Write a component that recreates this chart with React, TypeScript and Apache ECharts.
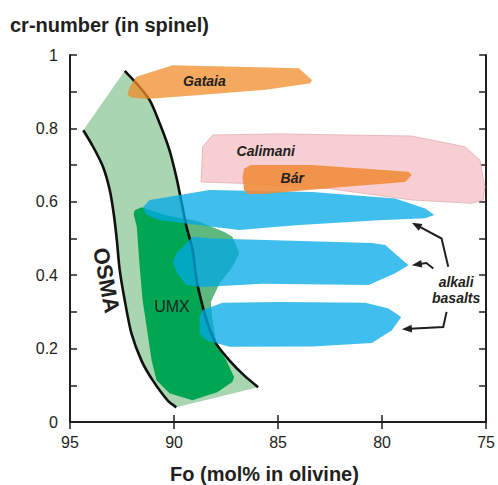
import React, { useEffect, useRef } from 'react';
import * as echarts from 'echarts';

const FONT = 'Liberation Sans, Arial, Helvetica, sans-serif';
const INK = '#231f20';

// axis ticks
const xTicks = [95, 90, 85, 80, 75];
const yTickLabels = ['0', '0.2', '0.4', '0.6', '0.8', '1'];

// OSMA band boundaries [Fo, cr]
const osmaLeft = [
  [94.36, 0.795], [93.89, 0.75], [93.41, 0.695], [93.09, 0.632], [92.89, 0.564],
  [92.75, 0.496], [92.61, 0.414], [92.37, 0.332], [92.05, 0.242], [91.57, 0.168],
  [91.03, 0.114], [90.31, 0.059], [89.89, 0.04],
];
const osmaRight = [
  [92.37, 0.957], [91.81, 0.923], [91.17, 0.877], [90.69, 0.814], [90.22, 0.741],
  [89.89, 0.668], [89.66, 0.605], [89.4, 0.532], [89.1, 0.468], [88.94, 0.395],
  [88.7, 0.332], [88.38, 0.268], [87.98, 0.214], [87.34, 0.168], [86.63, 0.127],
  [85.96, 0.095],
];

// UMX field
const umx = [
  [91.89, 0.577], [91.56, 0.585], [90.45, 0.564], [88.78, 0.545], [87.58, 0.517],
  [87.2, 0.504], [86.87, 0.46], [87.25, 0.419], [87.82, 0.378], [88.25, 0.326],
  [88.16, 0.277], [88.01, 0.228], [87.97, 0.214], [87.49, 0.168], [87.11, 0.122],
  [87.2, 0.109], [87.92, 0.081], [88.64, 0.068], [89.11, 0.059], [90.22, 0.078],
  [90.84, 0.114], [91.08, 0.168], [91.27, 0.241], [91.51, 0.332], [91.65, 0.422],
  [91.79, 0.531], [91.94, 0.566],
];
// part of UMX lying outside the OSMA band
const umxOutside = [
  [89.5, 0.555], [89.4, 0.532], [89.1, 0.468], [88.94, 0.395], [88.7, 0.332],
  [88.38, 0.268], [88.01, 0.223], [88.16, 0.277], [88.25, 0.326], [87.82, 0.378],
  [87.25, 0.419], [86.87, 0.46], [87.2, 0.504], [87.58, 0.517], [88.78, 0.545],
];

const gataia = [
  [92.24, 0.891], [92.13, 0.913], [91.81, 0.941], [90.07, 0.972], [84.0, 0.964],
  [83.37, 0.932], [83.44, 0.923], [85.59, 0.905], [88.78, 0.891], [91.33, 0.88],
  [92.05, 0.884],
];
const calimani = [
  [88.7, 0.654], [88.62, 0.75], [88.14, 0.782], [84.95, 0.785], [78.57, 0.779],
  [76.02, 0.75], [75.3, 0.714], [75.06, 0.641], [75.14, 0.605], [75.7, 0.596],
  [78.57, 0.605], [82.56, 0.636], [86.55, 0.65],
];
const bar = [
  [86.71, 0.668], [86.63, 0.691], [86.31, 0.7], [83.36, 0.7], [78.73, 0.682],
  [78.57, 0.673], [78.89, 0.654], [81.76, 0.641], [85.75, 0.621], [86.47, 0.621],
  [86.63, 0.632],
];
const alkaliHigh = [
  [91.49, 0.586], [91.17, 0.605], [90.22, 0.614], [88.3, 0.632], [83.36, 0.627],
  [79.37, 0.609], [77.93, 0.582], [77.49, 0.564], [77.93, 0.555], [80.17, 0.55],
  [84.15, 0.536], [86.87, 0.523], [90.69, 0.55], [91.33, 0.564],
];
const alkaliMid = [
  [90.06, 0.436], [89.89, 0.459], [89.1, 0.505], [88.14, 0.5], [80.49, 0.488],
  [79.85, 0.482], [78.73, 0.427], [79.37, 0.405], [80.65, 0.373], [85.75, 0.377],
  [88.62, 0.368], [89.42, 0.373], [89.89, 0.409],
];
const alkaliLow = [
  [88.78, 0.286], [88.62, 0.305], [87.67, 0.325], [84.95, 0.327], [80.8, 0.325],
  [79.69, 0.309], [79.08, 0.286], [79.53, 0.25], [80.49, 0.215], [83.36, 0.206],
  [87.34, 0.205], [88.46, 0.223], [88.78, 0.241],
];

// arrows (tail ... head)
const arrowHigh = [[76.82, 0.423], [77.14, 0.5], [78.57, 0.543]];
const arrowMid = [[77.54, 0.418], [77.87, 0.433], [78.57, 0.427]];
const arrowLow = [[76.9, 0.3], [77.06, 0.259], [79.05, 0.253]];

// labels
const labelTexts = ['Gataia', 'Calimani', 'Bár', 'UMX', 'OSMA', 'alkali\nbasalts'];
const labelFo = [88.54, 85.59, 84.32, 90.1, 93.25, 76.44];
const labelCr = [0.929, 0.739, 0.664, 0.314, 0.386, 0.359];

const labelStyles = [
  { font: `italic bold 14px ${FONT}`, rot: 0 },
  { font: `italic bold 14px ${FONT}`, rot: 0 },
  { font: `italic bold 14px ${FONT}`, rot: 0 },
  { font: `normal 16px ${FONT}`, rot: 0 },
  { font: `bold 22px ${FONT}`, rot: -79.5 },
  { font: `italic bold 14px ${FONT}`, rot: 0 },
];

function polygonSeries(pts: number[][], style: any, z: number) {
  return {
    type: 'custom',
    coordinateSystem: 'cartesian2d',
    xAxisIndex: 0,
    yAxisIndex: 0,
    data: [pts[0]],
    encode: { x: 0, y: 1 },
    silent: true,
    z,
    renderItem: (_p: any, api: any) => ({
      type: 'polygon',
      shape: { points: pts.map((p) => api.coord(p)) },
      style,
    }),
  };
}

function curveSeries(pts: number[][], z: number) {
  return {
    type: 'custom',
    coordinateSystem: 'cartesian2d',
    xAxisIndex: 0,
    yAxisIndex: 0,
    data: [pts[0]],
    encode: { x: 0, y: 1 },
    silent: true,
    z,
    renderItem: (_p: any, api: any) => ({
      type: 'polyline',
      shape: { points: pts.map((p) => api.coord(p)), smooth: 0.25 },
      style: { stroke: '#111', lineWidth: 2.6, fill: 'none' },
    }),
  };
}

function arrowSeries(pts: number[][], z: number) {
  return {
    type: 'custom',
    coordinateSystem: 'cartesian2d',
    xAxisIndex: 0,
    yAxisIndex: 0,
    data: [pts[0]],
    encode: { x: 0, y: 1 },
    silent: true,
    z,
    renderItem: (_p: any, api: any) => {
      const px = pts.map((p) => api.coord(p));
      const n = px.length;
      const [x1, y1] = px[n - 2];
      const [x2, y2] = px[n - 1];
      const a = Math.atan2(y2 - y1, x2 - x1);
      const L = 10;
      const W = 3.8;
      const c = Math.cos(a);
      const s = Math.sin(a);
      const bx = x2 - L * c;
      const by = y2 - L * s;
      const line = px.slice(0, n - 1).concat([[x2 - (L - 2) * c, y2 - (L - 2) * s]]);
      return {
        type: 'group',
        children: [
          { type: 'polyline', shape: { points: line }, style: { stroke: INK, lineWidth: 2, fill: 'none' } },
          {
            type: 'polygon',
            shape: { points: [[x2, y2], [bx - W * s, by + W * c], [bx + W * s, by - W * c]] },
            style: { fill: INK },
          },
        ],
      };
    },
  };
}

export default function App() {
  const ref = useRef<HTMLDivElement>(null);
  useEffect(() => {
    if (!ref.current) return;
    const chart = echarts.init(ref.current, undefined, { renderer: 'svg' });
    const band = [...osmaLeft, ...[...osmaRight].reverse()];
    const blue = 'rgba(0,168,231,0.75)';

    const labelData = labelTexts.map((t, i) => [labelFo[i], labelCr[i], i]);

    const axisLineStyle = { color: INK, width: 2 };
    const tickStyle = { color: INK, width: 1.5 };

    chart.setOption({
      animation: false,
      backgroundColor: '#ffffff',
      title: [
        {
          text: 'cr-number (in spinel)',
          left: 10,
          top: 15,
          padding: 0,
          textStyle: { fontFamily: FONT, fontSize: 20, lineHeight: 20, fontWeight: 'bold', color: INK },
        },
        {
          text: 'Fo (mol% in olivine)',
          left: 170,
          top: 464,
          padding: 0,
          textStyle: { fontFamily: FONT, fontSize: 20, lineHeight: 20, fontWeight: 'bold', color: INK },
        },
      ],
      grid: { left: 70, right: 10, top: 55, bottom: 63, containLabel: false },
      xAxis: [
        {
          type: 'value',
          min: 75,
          max: 95,
          interval: 5,
          inverse: true,
          position: 'bottom',
          axisLine: { show: true, lineStyle: axisLineStyle },
          axisTick: { show: true, inside: true, length: 7, lineStyle: tickStyle },
          axisLabel: {
            show: true,
            margin: 12,
            fontSize: 16,
            fontFamily: FONT,
            color: INK,
            formatter: (v: number) => (xTicks.includes(v) ? String(v) : ''),
          },
          splitLine: { show: false },
        },
        {
          type: 'value',
          min: 75,
          max: 95,
          interval: 5,
          inverse: true,
          position: 'top',
          axisLine: { show: true, lineStyle: axisLineStyle },
          axisTick: { show: true, inside: true, length: 7, lineStyle: tickStyle },
          axisLabel: { show: false },
          splitLine: { show: false },
        },
      ],
      yAxis: [
        {
          type: 'value',
          min: 0,
          max: 1,
          interval: 0.1,
          position: 'left',
          axisLine: { show: true, lineStyle: axisLineStyle },
          axisTick: { show: true, inside: true, length: 7, lineStyle: tickStyle },
          axisLabel: {
            show: true,
            margin: 12,
            fontSize: 16,
            fontFamily: FONT,
            color: INK,
            formatter: (v: number) => {
              const k = Math.round(v * 10);
              return k % 2 === 0 ? yTickLabels[k / 2] : '';
            },
          },
          splitLine: { show: false },
        },
        {
          type: 'value',
          min: 0,
          max: 1,
          interval: 0.1,
          position: 'right',
          axisLine: { show: true, lineStyle: axisLineStyle },
          axisTick: { show: true, inside: true, length: 7, lineStyle: tickStyle },
          axisLabel: { show: false },
          splitLine: { show: false },
        },
      ],
      series: [
        polygonSeries(band, { fill: '#a9d6b1' }, 1),
        polygonSeries(umx, { fill: '#00a651' }, 2),
        polygonSeries(umxOutside, { fill: '#5fb97e' }, 3),
        curveSeries(osmaLeft, 4),
        curveSeries(osmaRight, 4),
        polygonSeries(calimani, { fill: '#f7cfd2', stroke: '#e9b9bd', lineWidth: 1 }, 5),
        polygonSeries(alkaliHigh, { fill: blue }, 6),
        polygonSeries(alkaliMid, { fill: blue }, 6),
        polygonSeries(alkaliLow, { fill: blue }, 6),
        polygonSeries(bar, { fill: 'rgba(240,140,60,0.9)' }, 7),
        polygonSeries(gataia, { fill: 'rgba(240,140,40,0.75)' }, 8),
        arrowSeries(arrowHigh, 9),
        arrowSeries(arrowMid, 9),
        arrowSeries(arrowLow, 9),
        {
          type: 'custom',
          coordinateSystem: 'cartesian2d',
          xAxisIndex: 0,
          yAxisIndex: 0,
          data: labelData,
          encode: { x: 0, y: 1 },
          silent: true,
          z: 10,
          renderItem: (_p: any, api: any) => {
            const i = api.value(2);
            const pt = api.coord([api.value(0), api.value(1)]);
            const st = labelStyles[i];
            return {
              type: 'text',
              x: pt[0],
              y: pt[1],
              rotation: (st.rot * Math.PI) / 180,
              style: {
                text: labelTexts[i],
                font: st.font,
                fill: INK,
                align: 'center',
                verticalAlign: 'middle',
                lineHeight: 16,
              },
            };
          },
        },
      ],
    });
    return () => chart.dispose();
  }, []);
  return (
    <div
      ref={ref}
      style={{ position: 'absolute', left: 0, top: 0, width: 498, height: 485, background: '#fff' }}
    />
  );
}
